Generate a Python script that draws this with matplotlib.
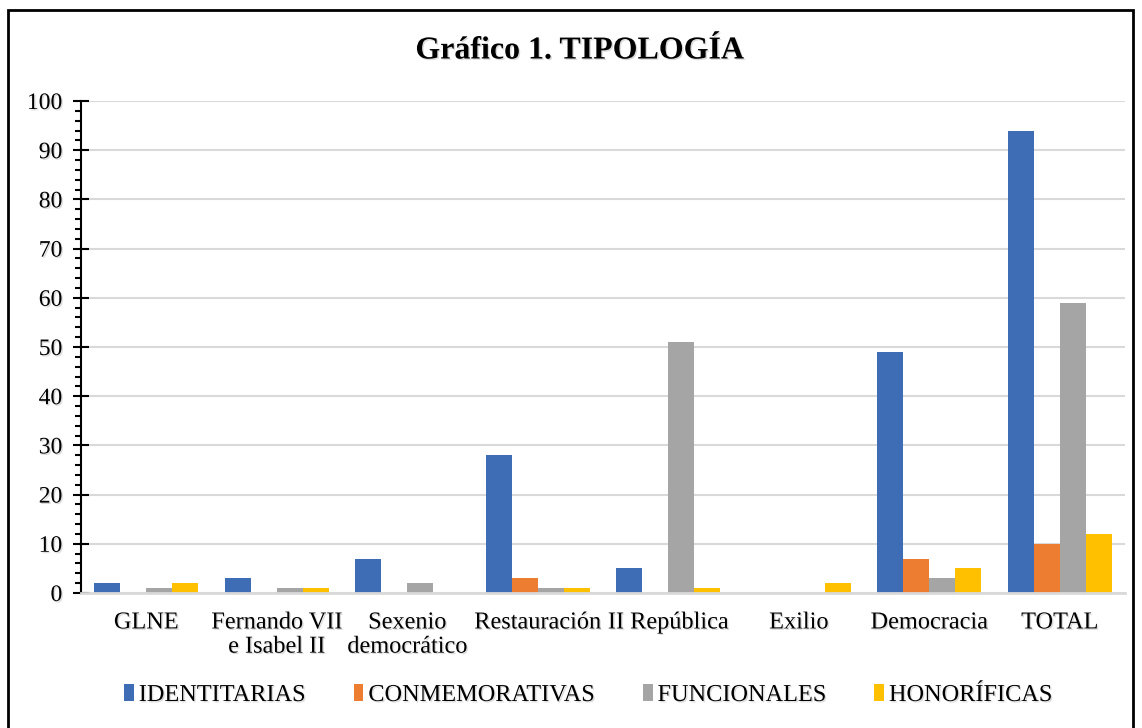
import matplotlib
matplotlib.use("Agg")
import matplotlib.pyplot as plt
import matplotlib.patheffects as pe
from matplotlib.patches import Rectangle
from matplotlib.ticker import MultipleLocator
import numpy as np

categories = ["GLNE", "Fernando VII\ne Isabel II", "Sexenio\ndemocrático", "Restauración",
              "II República", "Exilio", "Democracia", "TOTAL"]
series_names = ["IDENTITARIAS", "CONMEMORATIVAS", "FUNCIONALES", "HONORÍFICAS"]
identitarias = [2, 3, 7, 28, 5, 0, 49, 94]
conmemorativas = [0, 0, 0, 3, 0, 0, 7, 10]
funcionales = [1, 1, 2, 1, 51, 0, 3, 59]
honorificas = [2, 1, 0, 1, 1, 2, 5, 12]
series_values = [identitarias, conmemorativas, funcionales, honorificas]
colors = ["#3E6DB5", "#ED7D31", "#A5A5A5", "#FFC000"]

plt.rcParams['font.family'] = ['Liberation Serif', 'DejaVu Serif']

fig = plt.figure(figsize=(11.42, 7.28), dpi=100)
ax = fig.add_axes([81/1142, 1-593/728, (1125-81)/1142, (593-101)/728])

shadow = [pe.withSimplePatchShadow(offset=(1, -1), shadow_rgbFace='#999999', alpha=0.35)]

x = np.arange(len(categories))
w = 0.2
for i, (name, vals, c) in enumerate(zip(series_names, series_values, colors)):
    ax.bar(x + (i - 1.5) * w, vals, width=w, color=c, label=name, zorder=3)

ax.set_xlim(-0.5, len(categories) - 0.5)
ax.set_ylim(0, 100)
ax.yaxis.set_major_locator(MultipleLocator(10))
ax.yaxis.set_minor_locator(MultipleLocator(2))
ax.yaxis.grid(True, which='major', color='#D9D9D9', linewidth=1.5, zorder=0)
ax.set_axisbelow(True)

for s in ['top', 'right']:
    ax.spines[s].set_visible(False)
ax.spines['left'].set_color('black')
ax.spines['left'].set_linewidth(1.5)
ax.spines['bottom'].set_color('#D9D9D9')
ax.spines['bottom'].set_linewidth(2)
ax.spines['bottom'].set_zorder(4)

ax.tick_params(axis='y', which='major', direction='inout', length=11, width=1.5,
               labelsize=17, pad=8)
ax.tick_params(axis='y', which='minor', direction='out', length=4, width=1.5)
ax.tick_params(axis='x', length=0, labelsize=17.5, pad=14)
ax.set_xticks(x)
ax.set_xticklabels(categories, linespacing=1.2)
for lab in ax.get_xticklabels() + ax.get_yticklabels():
    lab.set_path_effects(shadow)

t = fig.text(580/1142, 1-51/728, "Gráfico 1. TIPOLOGÍA", ha='center', va='center',
             fontsize=23, fontweight='bold')
t.set_path_effects(shadow)

leg = fig.legend(loc='center', bbox_to_anchor=(588/1142, 1-695/728), ncol=4,
                 frameon=False, fontsize=17.5, handlelength=0.4, handleheight=0.7,
                 handletextpad=0.2, columnspacing=2.0)
for txt in leg.get_texts():
    txt.set_path_effects(shadow)

fig.patches.append(Rectangle((8/1142, -0.02), (1133-8)/1142, 1.02 - 10/728,
                             transform=fig.transFigure, fill=False,
                             edgecolor='black', linewidth=2, zorder=10))

fig.savefig("out.png", dpi=100)
